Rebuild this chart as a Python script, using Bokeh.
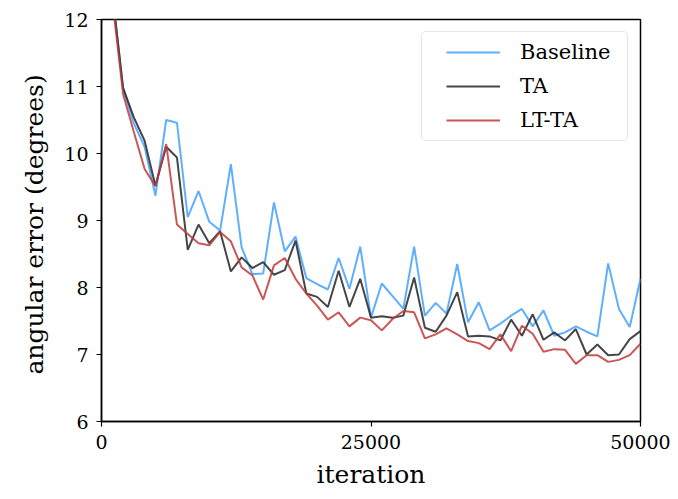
from bokeh.plotting import figure
from bokeh.embed import file_html
from bokeh.resources import INLINE
from bokeh.models import Range1d, FixedTicker

iterations = [1000 * k for k in range(1, 51)]

baseline = [12.4, 10.98, 10.45, 10.10, 9.37, 10.50, 10.46, 9.05, 9.44, 8.98,
            8.85, 9.84, 8.60, 8.20, 8.21, 9.27, 8.54, 8.76, 8.14, 8.05,
            7.97, 8.44, 7.98, 8.61, 7.55, 8.06, 7.87, 7.68, 8.61, 7.58,
            7.77, 7.61, 8.35, 7.48, 7.78, 7.36, 7.46, 7.58, 7.68, 7.42,
            7.66, 7.28, 7.33, 7.42, 7.34, 7.27, 8.36, 7.68, 7.41, 8.13]

ta = [12.4, 10.98, 10.54, 10.19, 9.52, 10.10, 9.94, 8.56, 8.94, 8.66,
      8.84, 8.24, 8.45, 8.29, 8.38, 8.19, 8.26, 8.70, 7.91, 7.86,
      7.71, 8.25, 7.71, 8.13, 7.55, 7.57, 7.55, 7.58, 8.15, 7.40,
      7.34, 7.58, 7.93, 7.27, 7.28, 7.27, 7.21, 7.52, 7.28, 7.60,
      7.22, 7.33, 7.21, 7.38, 7.00, 7.15, 6.99, 7.00, 7.23, 7.35]

lt_ta = [12.3, 10.89, 10.32, 9.77, 9.51, 10.14, 8.94, 8.80, 8.66, 8.63,
         8.83, 8.69, 8.30, 8.18, 7.82, 8.33, 8.44, 8.13, 7.91, 7.73,
         7.52, 7.63, 7.42, 7.55, 7.51, 7.36, 7.53, 7.65, 7.63, 7.24,
         7.30, 7.39, 7.30, 7.20, 7.17, 7.08, 7.30, 7.05, 7.43, 7.31,
         7.04, 7.08, 7.07, 6.86, 6.99, 6.99, 6.89, 6.92, 6.99, 7.16]

x_ticks = [0, 25000, 50000]
y_ticks = [6, 7, 8, 9, 10, 11, 12]

FONT = "DejaVu Serif"

p = figure(width=676, height=497, output_backend="svg", toolbar_location=None,
           x_range=Range1d(0, 50000), y_range=Range1d(6, 12),
           min_border_left=101, min_border_right=36, min_border_top=19,
           min_border_bottom=76)

p.line(iterations, baseline, line_color="#4da6ff", line_width=2, line_alpha=0.9,
       legend_label="Baseline")
p.line(iterations, ta, line_color="#262626", line_width=2, line_alpha=0.85,
       legend_label="TA")
p.line(iterations, lt_ta, line_color="#c03a3a", line_width=2, line_alpha=0.85,
       legend_label="LT-TA")

p.xgrid.visible = False
p.ygrid.visible = False
p.outline_line_color = "black"
p.outline_line_width = 1.5
p.outline_line_alpha = 1

for ax in (p.xaxis[0], p.yaxis[0]):
    ax.axis_line_color = "black"
    ax.axis_line_width = 1.5
    ax.major_tick_line_color = "black"
    ax.major_tick_line_width = 1.2
    ax.major_tick_in = 0
    ax.major_tick_out = 5
    ax.minor_tick_line_color = None
    ax.major_label_text_font = FONT
    ax.major_label_text_font_size = "19px"
    ax.major_label_text_color = "black"
    ax.axis_label_text_font = FONT
    ax.axis_label_text_font_size = "25px"
    ax.axis_label_text_font_style = "normal"
    ax.axis_label_text_color = "black"

p.xaxis[0].ticker = FixedTicker(ticks=x_ticks)
p.yaxis[0].ticker = FixedTicker(ticks=y_ticks)
p.xaxis[0].axis_label = "iteration"
p.yaxis[0].axis_label = "angular error  (degrees)"
p.xaxis[0].major_label_standoff = 8
p.yaxis[0].major_label_standoff = 8
p.xaxis[0].axis_label_standoff = 8
p.yaxis[0].axis_label_standoff = 12

lg = p.legend[0]
lg.location = "top_right"
lg.margin = 12
lg.padding = (24, 12, 8, 8)
lg.spacing = 10
lg.label_text_font = FONT
lg.label_text_font_size = "21px"
lg.label_text_color = "black"
lg.glyph_width = 54
lg.glyph_height = 20
lg.label_height = 20
lg.label_width = 95
lg.label_standoff = 20
lg.border_line_color = "#cccccc"
lg.border_line_width = 1.5
lg.border_radius = 5
lg.background_fill_alpha = 0.9

open("out.html", "w").write(file_html(p, INLINE))
